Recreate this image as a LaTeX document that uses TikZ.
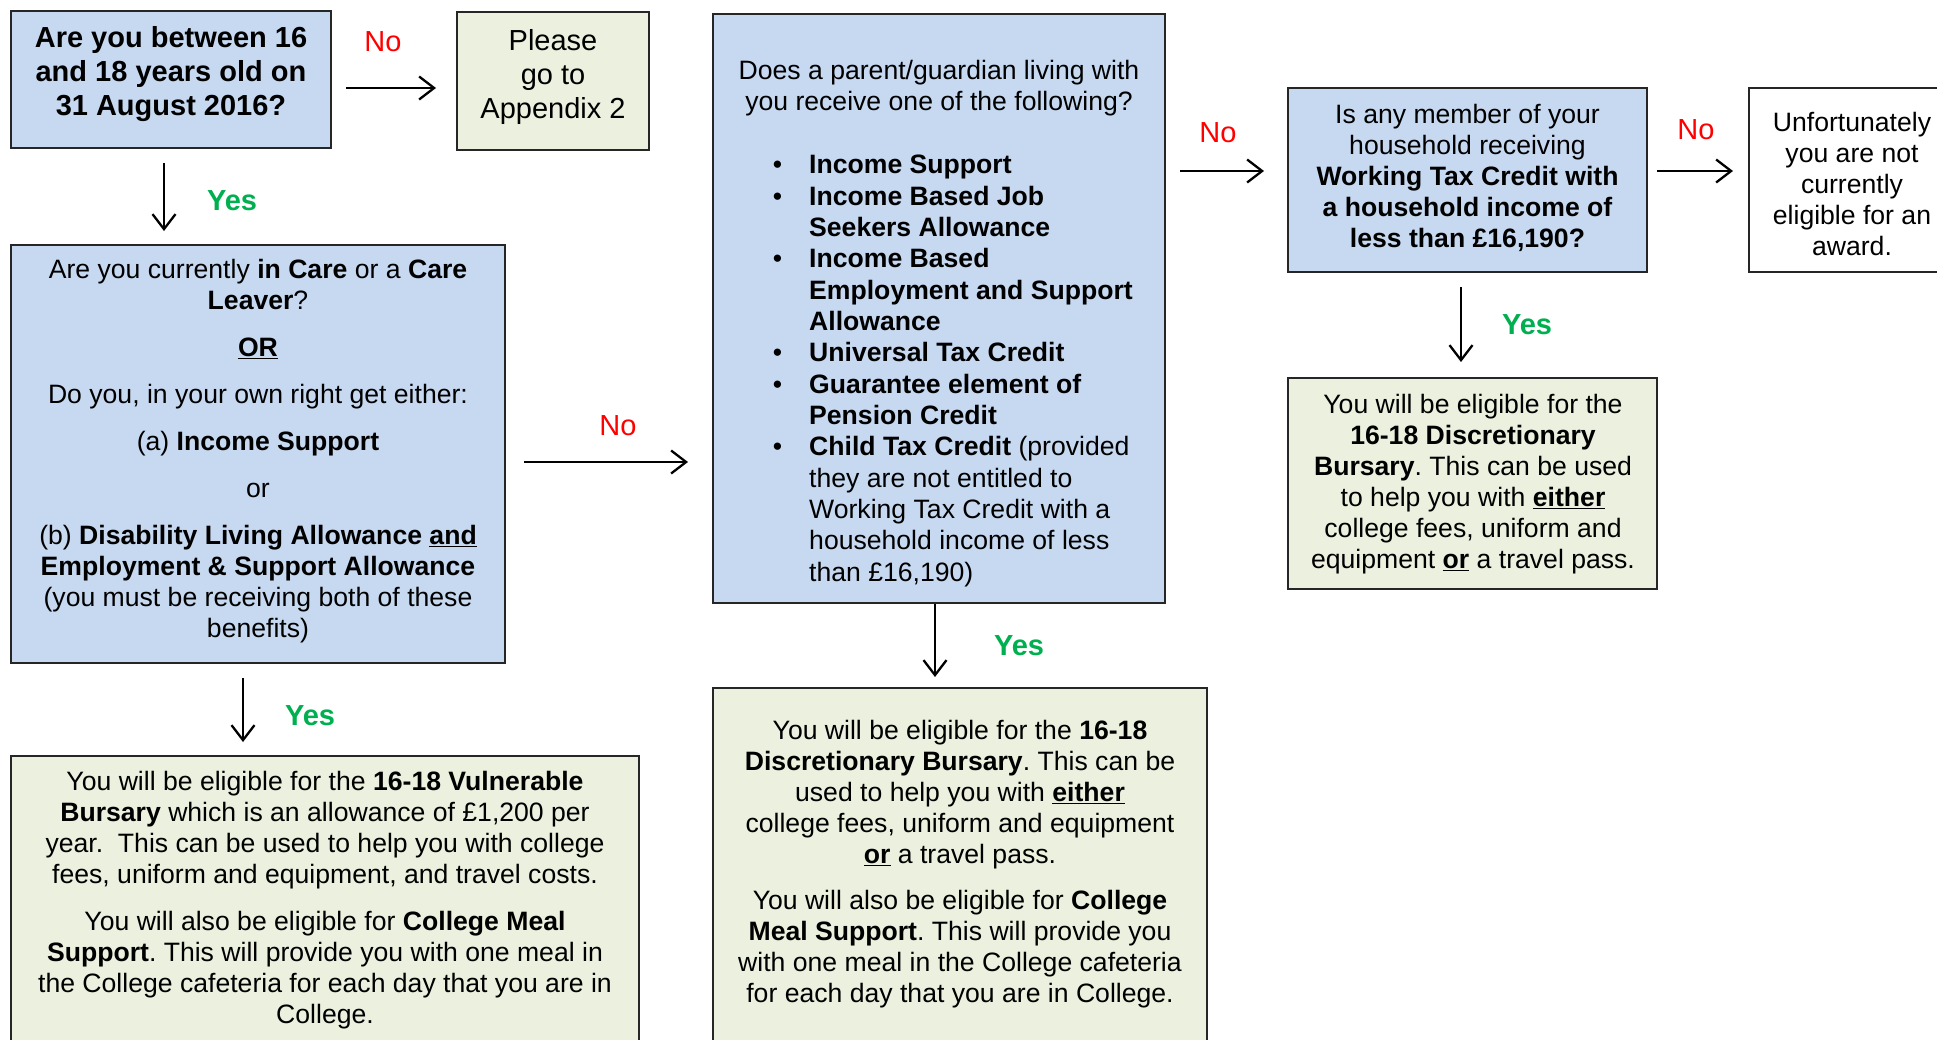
\documentclass[tikz,border=0pt]{standalone}
\usepackage{fontspec}
\setmainfont{Liberation Sans}
\usetikzlibrary{arrows.meta}
\frenchspacing
\definecolor{boxblue}{HTML}{C6D9F1}
\definecolor{boxgreen}{HTML}{EBF1DE}
\definecolor{noRed}{HTML}{FF0000}
\definecolor{yesGreen}{HTML}{00B050}
\tikzset{
  box/.style={draw=black!85, line width=1.6pt, rectangle, inner sep=0pt},
  bluebox/.style={box, fill=boxblue},
  greenbox/.style={box, fill=boxgreen},
  whitebox/.style={box, fill=white},
  txt/.style={inner sep=0pt, align=center, font=\fontsize{26.6}{31}\selectfont},
  bigtxt/.style={inner sep=0pt, align=center, font=\fontsize{29}{34}\selectfont},
  nolbl/.style={inner sep=0pt, text=noRed, font=\fontsize{29}{34}\selectfont},
  yeslbl/.style={inner sep=0pt, text=yesGreen, font=\fontsize{29}{34}\selectfont\bfseries},
  arr/.style={line width=2.3pt, -{Straight Barb[length=15pt,width=23pt]}},
}
\begin{document}
\begin{tikzpicture}[x=1pt,y=-1pt]
\useasboundingbox (0,0) rectangle (1937,1039);
\clip (0,0) rectangle (1937,1039);
\fill[white] (0,0) rectangle (1937,1039);

% boxes
\node[bluebox, minimum width=320pt, minimum height=137pt] (b1) at (171,79.5) {};
\node[greenbox, minimum width=192pt, minimum height=138pt] (b2) at (553,81) {};
\node[bluebox, minimum width=494pt, minimum height=418pt] (b3) at (258,454) {};
\node[bluebox, minimum width=452pt, minimum height=589pt] (b4) at (939,308.5) {};
\node[greenbox, minimum width=494pt, minimum height=362pt] (b5) at (960,869) {};
\node[bluebox, minimum width=359pt, minimum height=184pt] (b6) at (1467.5,180) {};
\node[whitebox, minimum width=211pt, minimum height=184pt] (b7) at (1854.5,180) {};
\node[greenbox, minimum width=369pt, minimum height=211pt] (b8) at (1472.5,483.5) {};
\node[greenbox, minimum width=628pt, minimum height=294pt] (b9) at (325,903) {};

% texts
\node[bigtxt, font=\fontsize{29}{34}\selectfont\bfseries] (t1) at (171,74)
  {Are you between 16\\and 18 years old on\\31 August 2016?};
\node[bigtxt] (t2) at (553,77) {Please\\go to\\Appendix 2};
\node[txt] (t3) at (258,451) {Are you currently \textbf{in Care} or a \textbf{Care}\\
  \textbf{Leaver}?\\[16pt]
  \textbf{\underline{OR}}\\[16pt]
  Do you, in your own right get either:\\[16pt]
  (a) \textbf{Income Support}\\[16pt]
  or\\[16pt]
  (b) \textbf{Disability Living Allowance \underline{and}}\\
  \textbf{Employment \& Support Allowance}\\
  (you must be receiving both of these\\
  benefits)};
\node[txt] (t4a) at (939,88) {Does a parent/guardian living with\\you receive one of the following?};
\node[txt, align=left, anchor=west, font=\fontsize{26.6}{31.35}\selectfont] (t4b) at (809,371)
  {\llap{•\hspace{27pt}}\textbf{Income Support}\\
   \llap{•\hspace{27pt}}\textbf{Income Based Job}\\
   \textbf{Seekers Allowance}\\
   \llap{•\hspace{27pt}}\textbf{Income Based}\\
   \textbf{Employment and Support}\\
   \textbf{Allowance}\\
   \llap{•\hspace{27pt}}\textbf{Universal Tax Credit}\\
   \llap{•\hspace{27pt}}\textbf{Guarantee element of}\\
   \textbf{Pension Credit}\\
   \llap{•\hspace{27pt}}\textbf{Child Tax Credit} (provided\\
   they are not entitled to\\
   Working Tax Credit with a\\
   household income of less\\
   than £16,190)};
\node[txt] (t5) at (960,864) {You will be eligible for the \textbf{16-18}\\
  \textbf{Discretionary Bursary}. This can be\\
  used to help you with \textbf{\underline{either}}\\
  college fees, uniform and equipment\\
  \textbf{\underline{or}} a travel pass.\\[15pt]
  You will also be eligible for \textbf{College}\\
  \textbf{Meal Support}. This will provide you\\
  with one meal in the College cafeteria\\
  for each day that you are in College.};
\node[txt] (t6) at (1467.5,178) {Is any member of your\\
  household receiving\\
  \textbf{Working Tax Credit with}\\
  \textbf{a household income of}\\
  \textbf{less than £16,190?}};
\node[txt] (t7) at (1852,183.5) {Unfortunately\\you are not\\currently\\eligible for an\\award.};
\node[txt] (t8) at (1473,484) {You will be eligible for the\\
  \textbf{16-18 Discretionary}\\
  \textbf{Bursary}. This can be used\\
  to help you with \textbf{\underline{either}}\\
  college fees, uniform and\\
  equipment \textbf{\underline{or}} a travel pass.};
\node[txt] (t9) at (325,900.5) {You will be eligible for the \textbf{16-18 Vulnerable}\\
  \textbf{Bursary} which is an allowance of £1,200 per\\
  year.\ \ This can be used to help you with college\\
  fees, uniform and equipment, and travel costs.\\[16pt]
  You will also be eligible for \textbf{College Meal}\\
  \textbf{Support}. This will provide you with one meal in\\
  the College cafeteria for each day that you are in\\
  College.};

% arrow end points
\coordinate (a1s) at (346,88);   \coordinate (a1e) at (436,88);
\coordinate (a2s) at (164,163);  \coordinate (a2e) at (164,231);
\coordinate (a3s) at (524,462);  \coordinate (a3e) at (688,462);
\coordinate (a4s) at (935,604);  \coordinate (a4e) at (935,677);
\coordinate (a5s) at (1180,171); \coordinate (a5e) at (1264,171);
\coordinate (a6s) at (1657,171); \coordinate (a6e) at (1733,171);
\coordinate (a7s) at (1461,287); \coordinate (a7e) at (1461,362);
\coordinate (a8s) at (243,678);  \coordinate (a8e) at (243,742);

\draw[arr] (a1s) -- (a1e);
\draw[arr] (a2s) -- (a2e);
\draw[arr] (a3s) -- (a3e);
\draw[arr] (a4s) -- (a4e);
\draw[arr] (a5s) -- (a5e);
\draw[arr] (a6s) -- (a6e);
\draw[arr] (a7s) -- (a7e);
\draw[arr] (a8s) -- (a8e);

% labels
\node[nolbl] (n1) at (383,42) {No};
\node[nolbl] (n2) at (618,426) {No};
\node[nolbl] (n3) at (1218,133) {No};
\node[nolbl] (n4) at (1696,130) {No};
\node[yeslbl] (y1) at (232,201) {Yes};
\node[yeslbl] (y2) at (1019,646) {Yes};
\node[yeslbl] (y3) at (1527,325) {Yes};
\node[yeslbl] (y4) at (310,716) {Yes};
\end{tikzpicture}
\end{document}
